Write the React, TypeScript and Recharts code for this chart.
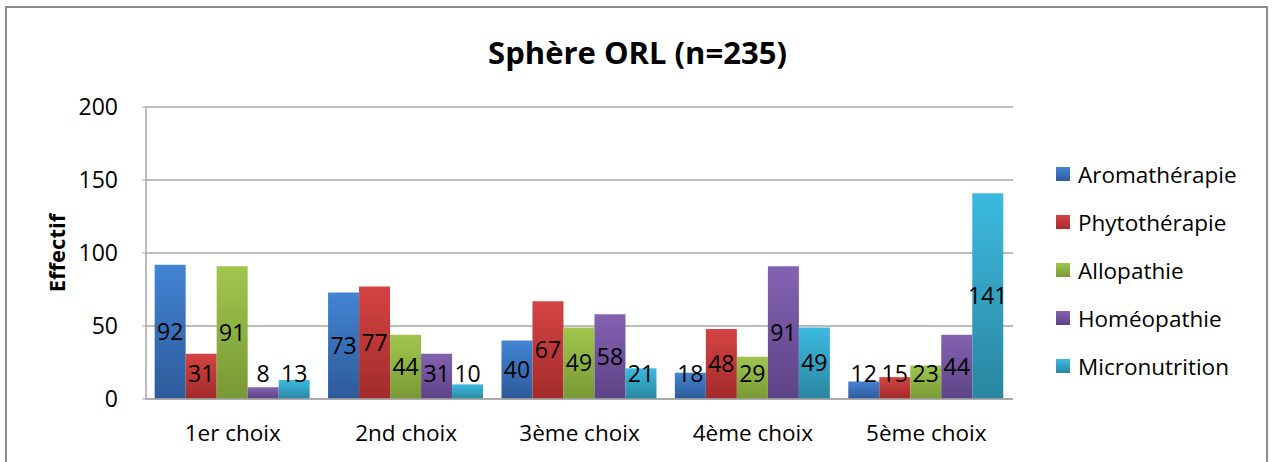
import React from 'react';
import { BarChart, Bar, XAxis, YAxis, CartesianGrid, LabelList, Label } from 'recharts';

const categories = ['1er choix', '2nd choix', '3ème choix', '4ème choix', '5ème choix'];
const aromatherapie = [92, 73, 40, 18, 12];
const phytotherapie = [31, 77, 67, 48, 15];
const allopathie = [91, 44, 49, 29, 23];
const homeopathie = [8, 31, 58, 91, 44];
const micronutrition = [13, 10, 21, 49, 141];
const yTicks = [0, 50, 100, 150, 200];

const series = [
  { key: 'Aromathérapie', values: aromatherapie, top: '#4384d4', bottom: '#2d5a9a' },
  { key: 'Phytothérapie', values: phytotherapie, top: '#d44343', bottom: '#a32b2b' },
  { key: 'Allopathie', values: allopathie, top: '#a0c64e', bottom: '#789935' },
  { key: 'Homéopathie', values: homeopathie, top: '#8462b2', bottom: '#5d4386' },
  { key: 'Micronutrition', values: micronutrition, top: '#3cbadf', bottom: '#2a86a0' },
];

const data = categories.map((name, i) => {
  const row: Record<string, string | number> = { name };
  series.forEach((s) => (row[s.key] = s.values[i]));
  return row;
});

const FONT = '"Open Sans", sans-serif';

// labels sit in the middle of the bar, but never lower than a fixed gap above the axis
const BarValue = (props: any) => {
  const { x, y, width, height, value } = props;
  const base = y + height;
  const cy = Math.min(y + height / 2, base - 25);
  return (
    <text x={x + width / 2} y={cy} dy="0.35em" textAnchor="middle" fontSize={23} fontFamily={FONT} fill="#000">
      {value}
    </text>
  );
};

const LegendBox = () => (
  <div style={{ position: 'absolute', left: 1056, top: 150, fontFamily: FONT, fontSize: 22.5 }}>
    {series.map((s) => (
      <div key={s.key} style={{ display: 'flex', alignItems: 'center', height: 48 }}>
        <span
          style={{
            display: 'inline-block',
            width: 14,
            height: 14,
            marginRight: 8,
            background: `linear-gradient(${s.top}, ${s.bottom})`,
          }}
        />
        <span>{s.key}</span>
      </div>
    ))}
  </div>
);

export default function App() {
  return (
    <div style={{ position: 'absolute', left: 0, top: 0, width: 1275, height: 462, background: '#fff', overflow: 'hidden' }}>
      <div style={{ position: 'absolute', left: 5, top: 6, width: 1259, height: 480, border: '2px solid #8c8c8c' }} />
      <div
        style={{
          position: 'absolute',
          left: 0,
          top: 30,
          width: 1275,
          textAlign: 'center',
          fontFamily: FONT,
          fontWeight: 700,
          fontSize: 31,
          lineHeight: '44px',
        }}
      >
        Sphère ORL (n=235)
      </div>
      <div style={{ position: 'absolute', left: 0, top: 0 }}>
        <BarChart
          width={1275}
          height={462}
          data={data}
          margin={{ top: 107, right: 262, bottom: 33, left: 0 }}
          barCategoryGap="5%"
          barGap={0}
        >
          <defs>
            {series.map((s, i) => (
              <linearGradient key={s.key} id={`grad${i}`} x1="0" y1="0" x2="0" y2="1">
                <stop offset="0%" stopColor={s.top} />
                <stop offset="100%" stopColor={s.bottom} />
              </linearGradient>
            ))}
          </defs>
          <CartesianGrid vertical={false} stroke="#a6a6a6" strokeWidth={1.5} />
          <XAxis
            dataKey="name"
            height={30}
            tickLine={false}
            tickSize={0}
            tickMargin={26}
            axisLine={{ stroke: '#a6a6a6', strokeWidth: 1.5 }}
            tick={{ fill: '#000', fontSize: 22.5, fontFamily: FONT }}
          />
          <YAxis
            width={146}
            domain={[0, 200]}
            ticks={yTicks}
            interval={0}
            tickSize={4}
            tickMargin={24}
            tickLine={{ stroke: '#a6a6a6' }}
            axisLine={{ stroke: '#a6a6a6', strokeWidth: 1.5 }}
            tick={{ fill: '#000', fontSize: 23, fontFamily: FONT }}
          >
            <Label
              content={() => (
                <text
                  x={57}
                  y={253}
                  transform="rotate(-90 57 253)"
                  textAnchor="middle"
                  dy="0.35em"
                  fontFamily={FONT}
                  fontWeight={700}
                  fontSize={22}
                  fill="#000"
                >
                  Effectif
                </text>
              )}
            />
          </YAxis>
          {series.map((s, i) => (
            <Bar key={s.key} dataKey={s.key} fill={`url(#grad${i})`} isAnimationActive={false}>
              <LabelList dataKey={s.key} content={BarValue} />
            </Bar>
          ))}
        </BarChart>
      </div>
      <LegendBox />
    </div>
  );
}
